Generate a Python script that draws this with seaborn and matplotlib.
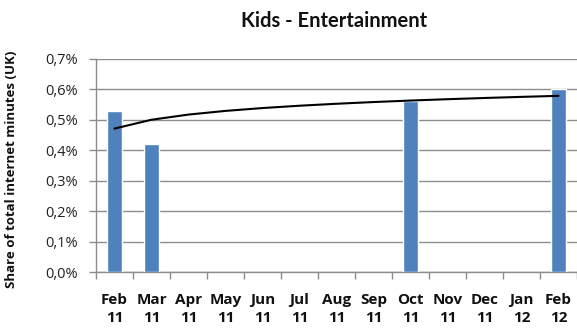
import numpy as np
import pandas as pd
import matplotlib
matplotlib.use("Agg")
import matplotlib.pyplot as plt
import seaborn as sns

months = ["Feb\n11", "Mar\n11", "Apr\n11", "May\n11", "Jun\n11", "Jul\n11", "Aug\n11",
          "Sep\n11", "Oct\n11", "Nov\n11", "Dec\n11", "Jan\n12", "Feb\n12"]
share = [0.53, 0.42, np.nan, np.nan, np.nan, np.nan, np.nan, np.nan, 0.563,
         np.nan, np.nan, np.nan, 0.601]
yticks = [0.0, 0.1, 0.2, 0.3, 0.4, 0.5, 0.6, 0.7]
title = "Kids - Entertainment"
ylabel = "Share of total internet minutes (UK)"

sns.set_theme(style="white")
plt.rcParams['font.family'] = ['Open Sans', 'DejaVu Sans']

df = pd.DataFrame({"month": months, "share": share})

W, H = 577, 332
fig = plt.figure(figsize=(W / 100, H / 100), dpi=100)
ax = fig.add_axes([96 / W, 1 - 272 / H, (W - 96) / W, (272 - 59) / H])

sns.barplot(data=df, x="month", y="share", order=months, color="#4F81BD",
            saturation=1, width=0.4, ax=ax, zorder=3)

# logarithmic trendline fitted to the observed values
xs = np.arange(len(months)) + 1
vals = np.array(share, dtype=float)
mask = ~np.isnan(vals)
b, a = np.polyfit(np.log(xs[mask]), vals[mask], 1)
trend = a + b * np.log(xs)
ax.plot(xs - 1, trend, color="black", lw=1.5, zorder=4)

ax.set_xlim(-0.5, -0.5 + (W - 96) / 37.5)
ax.set_ylim(0, 0.7)
ax.set_yticks(yticks)
ax.set_yticklabels([f"{v:.1f}%".replace(".", ",") for v in yticks],
                   fontsize=10.5, color="#222222")
ax.yaxis.grid(True, color="#8c8c8c", lw=1, zorder=0)
ax.xaxis.grid(False)

ax.set_xticks(np.arange(len(months)))
ax.set_xticklabels(months, fontsize=11, fontweight="bold", color="#111111",
                   linespacing=1.4)
ax.tick_params(axis="x", length=0, pad=15)
# minor ticks between categories
ax.set_xticks(np.arange(len(months) + 1) - 0.5, minor=True)
ax.tick_params(axis="x", which="minor", length=5, color="#8c8c8c", width=1,
               direction="out", bottom=True)
ax.tick_params(axis="y", length=5, color="#8c8c8c", width=1, direction="out",
               left=True, pad=8)

for s in ["top", "right"]:
    ax.spines[s].set_visible(False)
for s in ["left", "bottom"]:
    ax.spines[s].set_color("#8c8c8c")
    ax.spines[s].set_linewidth(1)

ax.set_xlabel("")
ax.set_ylabel(ylabel, fontsize=9.5, fontweight="bold", color="#111111")
ax.yaxis.set_label_coords((18 - 96) / (W - 96), (272 - 169) / (272 - 59))
fig.text(334 / W, 1 - 21 / H, title, ha="center", va="center",
         fontsize=14.5, fontweight="bold", color="#111111",
         family=['Lato', 'DejaVu Sans'])

fig.savefig("out.png", dpi=100, facecolor="white")
